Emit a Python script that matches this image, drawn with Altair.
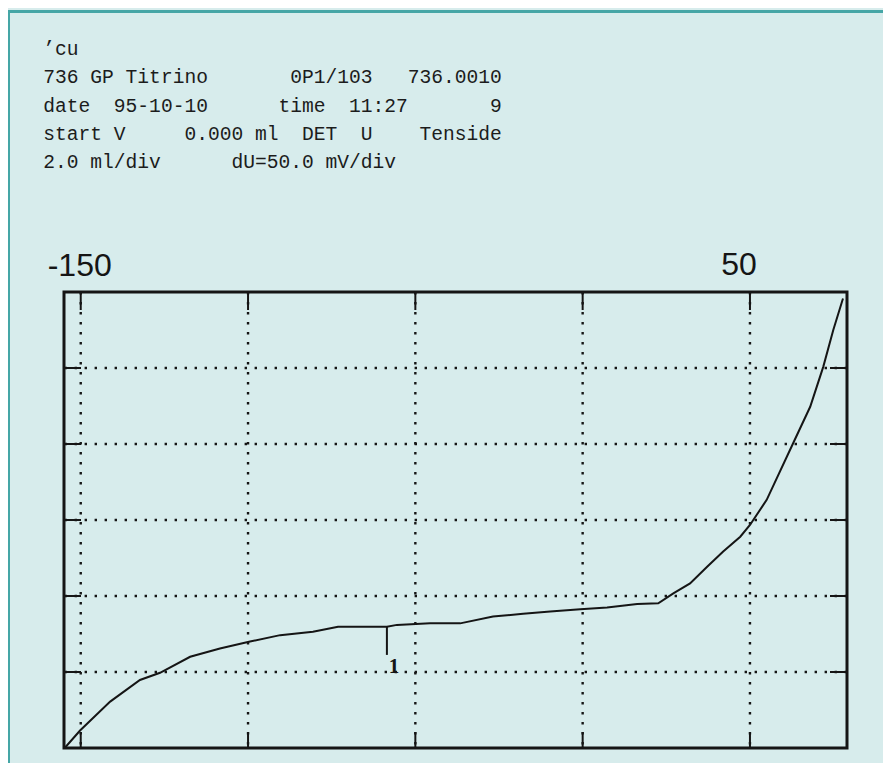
import altair as alt
import pandas as pd

# ---------------- data ----------------
# titration curve: potential U (mV) on the horizontal axis, volume V (ml) vertical
curve_u = [-154.6, -150.2, -141.2, -132.3, -126.3, -117.3, -108.4, -99.4, -90.4,
           -80.6, -73.1, -58.5, -55.5, -45.6, -36.6, -26.8, -17.8, -9.7, -0.7,
           7.3, 16.3, 22.6, 27.1, 32.1, 37.2, 42.0, 47.1, 50.0, 55.0,
           62.9, 68.0, 71.9, 74.9, 77.8]
curve_v = [0.02, 0.46, 1.22, 1.79, 1.98, 2.40, 2.62, 2.80, 2.97,
           3.06, 3.19, 3.19, 3.24, 3.28, 3.28, 3.46, 3.53, 3.59, 3.65,
           3.70, 3.79, 3.81, 4.07, 4.33, 4.77, 5.17, 5.56, 5.87, 6.53,
           8.02, 8.98, 10.03, 11.00, 11.83]

grid_u = [-150, -100, -50, 0, 50]        # 50 mV/div
grid_v = [2, 4, 6, 8, 10]                # 2.0 ml/div
u_domain = [-155, 79]
v_domain = [0, 12]

label_u = [-150, 50]
label_text = ["-150", "50"]

ep_u = [-58.5]          # equivalence point 1
ep_v = [3.19]
ep_drop_v = [2.45]
ep_text = ["1"]

header_lines = [
    "’cu",
    "736 GP Titrino       0P1/103   736.0010",
    "date  95-10-10      time  11:27       9",
    "start V     0.000 ml  DET  U    Tenside",
    "2.0 ml/div      dU=50.0 mV/div",
]

# ---------------- tables ----------------
curve_df = pd.DataFrame({"u": curve_u, "v": curve_v, "i": range(len(curve_u))})
gu_df = pd.DataFrame({"u": grid_u})
gv_df = pd.DataFrame({"v": grid_v})
ep_df = pd.DataFrame({"u": ep_u, "v": ep_v, "v2": ep_drop_v, "t": ep_text})
lab1 = pd.DataFrame({"u": label_u[:1], "t": label_text[:1]})
lab2 = pd.DataFrame({"u": label_u[1:], "t": label_text[1:]})
header_df = pd.DataFrame({"t": ["\n".join(l.replace(" ", "\u00a0") for l in header_lines)]})
one = pd.DataFrame({"a": [0]})

W, H = 783, 456
xs = alt.Scale(domain=u_domain, nice=False, zero=False)
ys = alt.Scale(domain=v_domain, nice=False, zero=False)
X = lambda f="u": alt.X(f"{f}:Q", scale=xs, axis=None)
Y = lambda f="v": alt.Y(f"{f}:Q", scale=ys, axis=None)

INK = "#151515"
TEAL = "#45a6a6"

border_top = alt.Chart(one).mark_rule(color=TEAL, strokeWidth=3).encode(
    x=alt.value(-55.5), x2=alt.value(W + 40), y=alt.value(-280.5))
border_left = alt.Chart(one).mark_rule(color=TEAL, strokeWidth=3).encode(
    x=alt.value(-55.5), y=alt.value(-282), y2=alt.value(H + 20))

grid_x = alt.Chart(gu_df).mark_rule(color=INK, strokeWidth=2.4, strokeDash=[2.4, 7.6]).encode(x=X())
grid_y = alt.Chart(gv_df).mark_rule(color=INK, strokeWidth=2.4, strokeDash=[2.4, 7.6]).encode(y=Y())

tick_top = alt.Chart(gu_df).mark_rule(color=INK, strokeWidth=2).encode(
    x=X(), y=alt.value(0), y2=alt.value(18))
tick_bot = alt.Chart(gu_df).mark_rule(color=INK, strokeWidth=2).encode(
    x=X(), y=alt.value(H - 16), y2=alt.value(H))
tick_left = alt.Chart(gv_df).mark_rule(color=INK, strokeWidth=2).encode(
    y=Y(), x=alt.value(0), x2=alt.value(17))
tick_right = alt.Chart(gv_df).mark_rule(color=INK, strokeWidth=2).encode(
    y=Y(), x=alt.value(W - 17), x2=alt.value(W))

curve = alt.Chart(curve_df).mark_line(color=INK, strokeWidth=2).encode(
    x=X(), y=Y(), order="i:Q")

ep_rule = alt.Chart(ep_df).mark_rule(color=INK, strokeWidth=2).encode(
    x=X(), y=Y(), y2="v2:Q")
ep_lab = alt.Chart(ep_df).mark_text(
    font="Liberation Serif", fontSize=21, fontWeight="bold", color=INK,
    align="center", baseline="top", dx=7, dy=1).encode(
    x=X(), y=Y("v2"), text="t:N")

lab_a = alt.Chart(lab1).mark_text(
    font="Liberation Sans", fontSize=32, color=INK, align="center",
    baseline="alphabetic", dx=-1).encode(x=X(), y=alt.value(-16.5), text="t:N")
lab_b = alt.Chart(lab2).mark_text(
    font="Liberation Sans", fontSize=32, color=INK, align="center",
    baseline="alphabetic", dx=-11).encode(x=X(), y=alt.value(-17.5), text="t:N")

header = alt.Chart(header_df).mark_text(
    font="Liberation Mono", fontSize=19.6, color="#1c1c1c", align="left",
    baseline="alphabetic", lineBreak="\n", lineHeight=28.3).encode(
    x=alt.value(-20.7), y=alt.value(-237), text="t:N")

chart = alt.layer(
    border_top, border_left, grid_x, grid_y, tick_top, tick_bot, tick_left, tick_right,
    curve, ep_rule, ep_lab, lab_a, lab_b, header
).properties(
    width=W, height=H,
    padding={"left": 56, "top": 284, "right": 36, "bottom": 15},
    autosize=alt.AutoSizeParams(type="none"),
    background="#d7ecec",
).configure_view(stroke=INK, strokeWidth=3)

chart.save("out.html", embed_options={"renderer": "svg", "actions": False})
